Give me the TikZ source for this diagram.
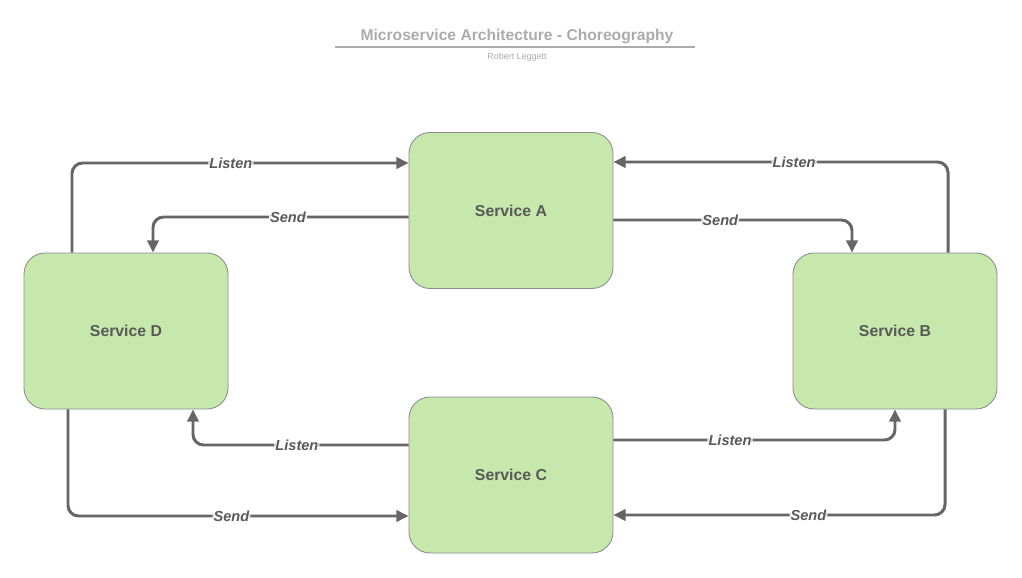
\documentclass[tikz,border=0pt]{standalone}
\usepackage{fontspec}
\setmainfont{Liberation Sans}
\usetikzlibrary{arrows.meta}
\definecolor{boxgreen}{HTML}{C7E8AD}
\definecolor{boxline}{HTML}{8C8C8C}
\definecolor{flowgray}{HTML}{666666}
\definecolor{textgray}{HTML}{595959}
\definecolor{titlegray}{HTML}{ABABAB}
\tikzset{
  service/.style={draw=boxline,line width=0.5pt,fill=boxgreen,rounded corners=12,
    minimum width=204*0.02cm,minimum height=156*0.02cm,
    font=\fontsize{9}{11}\selectfont\bfseries,text=textgray},
  flow/.style={draw=flowgray,line width=1.7pt,rounded corners=6,
    -{Triangle[length=7pt,width=6.5pt]}},
  lbl/.style={fill=white,inner sep=0.6pt,text=textgray,
    font=\fontsize{8.3}{10}\selectfont\bfseries\itshape}
}
\begin{document}
\begin{tikzpicture}[x=0.02cm,y=-0.02cm]
  \useasboundingbox (0,0) rectangle (1022,578);
  % title
  \node[text=titlegray,font=\fontsize{8.9}{11}\selectfont\bfseries] (title) at (517,36)
    {Microservice Architecture - Choreography};
  \draw[titlegray,line width=0.8pt] (335,47) -- (695,47);
  \node[text=titlegray,font=\fontsize{5.1}{6}\selectfont] (author) at (517,57) {Robert Leggett};
  % services
  \node[service] (A) at (511,210.5) {Service A};
  \node[service] (D) at (126,331) {Service D};
  \node[service] (B) at (895,331) {Service B};
  \node[service] (C) at (511,475) {Service C};
  % top half
  \draw[flow] (D.north -| 72,0) |- (A.west |- 0,163) node[lbl,pos=0.736] {Listen};
  \draw[flow] (A.west |- 0,217) -| (D.north -| 153,0) node[lbl,pos=0.236] {Send};
  \draw[flow] (B.north -| 948,0) |- (A.east |- 0,162) node[lbl,pos=0.73] {Listen};
  \draw[flow] (A.east |- 0,220) -| (B.north -| 852,0) node[lbl,pos=0.224] {Send};
  % bottom half
  \draw[flow] (C.west |- 0,445) -| (D.south -| 193,0) node[lbl,pos=0.259] {Listen};
  \draw[flow] (D.south -| 68,0) |- (C.west |- 0,516) node[lbl,pos=0.74] {Send};
  \draw[flow] (C.east |- 0,440) -| (B.south -| 895,0) node[lbl,pos=0.207] {Listen};
  \draw[flow] (B.south -| 945,0) |- (C.east |- 0,515) node[lbl,pos=0.706] {Send};
\end{tikzpicture}
\end{document}
